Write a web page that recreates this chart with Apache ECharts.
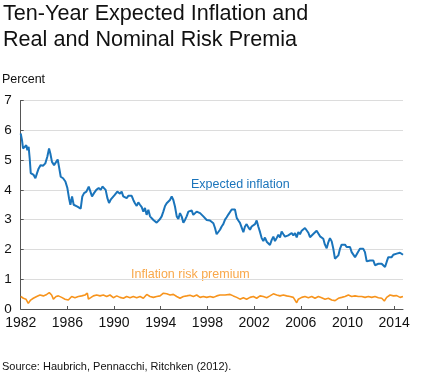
<!DOCTYPE html>
<html>
<head>
<meta charset="utf-8">
<script src="https://cdn.jsdelivr.net/npm/echarts@6/dist/echarts.min.js"></script>
<style>html,body{margin:0;padding:0;background:#fff;}#c{width:422px;height:374px;}</style>
</head>
<body>
<div id="c"></div>
<script>
// Expected inflation (percent), decimal years
const expYears = [1982.00,1982.11,1982.20,1982.34,1982.48,1982.57,1982.68,1982.77,1982.86,1982.97,1983.11,1983.26,1983.40,1983.54,1983.71,1983.91,1984.11,1984.28,1984.43,1984.54,1984.68,1984.86,1985.03,1985.17,1985.28,1985.43,1985.63,1985.83,1986.00,1986.14,1986.26,1986.40,1986.54,1986.68,1986.86,1987.00,1987.14,1987.28,1987.43,1987.63,1987.83,1987.97,1988.11,1988.28,1988.48,1988.68,1988.86,1989.00,1989.14,1989.28,1989.43,1989.57,1989.71,1989.86,1990.06,1990.28,
1990.37,1990.51,1990.65,1990.79,1990.94,1991.08,1991.22,1991.37,1991.51,1991.65,1991.79,1991.94,1992.08,1992.22,1992.37,1992.51,1992.65,1992.79,1992.94,1993.08,1993.22,1993.37,1993.51,1993.65,1993.79,1993.94,1994.08,1994.22,1994.37,1994.51,1994.65,1994.79,1994.94,1995.08,1995.22,1995.37,1995.51,1995.65,1995.79,1995.94,1996.08,1996.22,1996.37,1996.51,1996.65,1996.79,1996.94,1997.08,1997.22,1997.37,1997.51,1997.65,1997.79,1997.94,1998.08,1998.22,1998.37,1998.51,1998.65,
1998.79,1998.93,1999.08,1999.22,1999.36,1999.51,1999.65,1999.79,1999.93,2000.08,2000.22,2000.36,2000.51,2000.65,2000.79,2000.93,2001.08,2001.22,2001.36,2001.51,2001.65,2001.79,2001.93,2002.08,2002.22,2002.36,2002.51,2002.65,2002.79,2002.93,2003.08,2003.22,2003.36,2003.51,2003.65,2003.79,2003.93,2004.08,2004.22,2004.36,2004.51,2004.65,2004.79,2004.93,2005.08,2005.22,2005.36,2005.51,2005.65,2005.79,2005.93,2006.08,2006.22,2006.36,
2006.50,2006.65,2006.79,2006.93,2007.07,2007.22,2007.36,2007.50,2007.65,2007.79,2007.93,2008.07,2008.22,2008.36,2008.50,2008.65,2008.79,2008.93,2009.07,2009.22,2009.36,2009.50,2009.65,2009.79,2009.93,2010.07,2010.22,2010.36,2010.50,2010.65,2010.79,2010.93,2011.07,2011.22,2011.36,2011.50,2011.65,2011.79,2011.93,2012.07,2012.22,2012.36,2012.50,2012.65,2012.79,2012.93,2013.07,2013.22,2013.36,2013.50,2013.65,2013.79,2013.93,2014.07,2014.22,2014.36,2014.50,2014.65,2014.76];
const expValues = [5.89,5.67,5.39,5.44,5.50,5.33,5.44,5.06,4.56,4.61,4.50,4.39,4.56,4.72,4.83,4.81,4.89,5.11,5.39,5.22,4.94,4.83,4.89,5.02,4.78,4.44,4.39,4.28,4.06,3.72,3.50,3.78,3.50,3.56,3.44,3.50,3.37,3.78,3.89,3.94,4.11,4.11,3.78,3.89,4.00,4.06,4.00,4.11,4.17,4.00,3.72,3.56,3.67,3.61,3.83,3.94,
3.98,3.87,3.94,3.78,3.83,3.72,3.80,3.75,3.80,3.66,3.55,3.46,3.58,3.50,3.42,3.27,3.39,3.16,3.33,3.11,3.05,2.99,2.97,2.90,2.94,3.02,3.11,3.27,3.46,3.55,3.50,3.66,3.78,3.66,3.44,3.11,3.02,3.22,3.11,2.90,2.99,3.11,3.27,3.22,3.31,3.16,3.22,3.27,3.31,3.22,3.16,3.11,3.05,2.99,2.94,2.97,2.94,2.88,2.72,
2.51,2.55,2.66,2.77,2.85,3.00,3.08,3.17,3.23,3.34,3.28,3.34,3.06,2.97,2.89,2.83,2.58,2.77,2.85,2.74,2.66,2.77,2.72,2.85,2.97,2.77,2.58,2.38,2.28,2.40,2.26,2.32,2.15,2.32,2.43,2.28,2.38,2.49,2.40,2.60,2.51,2.43,2.40,2.47,2.51,2.55,2.47,2.55,2.40,2.58,2.51,2.63,2.58,2.72,
2.69,2.56,2.41,2.36,2.52,2.49,2.63,2.60,2.44,2.49,2.36,2.16,2.04,2.24,2.38,2.27,2.02,1.69,1.74,1.80,2.02,2.16,2.11,2.16,2.08,2.13,2.08,1.91,1.86,1.74,1.71,1.93,2.02,2.08,2.02,1.91,1.60,1.56,1.63,1.58,1.63,1.47,1.49,1.52,1.49,1.52,1.47,1.41,1.58,1.74,1.80,1.74,1.82,1.80,1.86,1.82,1.89,1.86,1.82];

// Inflation risk premium (percent)
const irpYears = [1982.00,1982.23,1982.45,1982.65,1982.85,1983.08,1983.37,1983.65,1983.94,1984.23,1984.45,1984.65,1984.80,1985.03,1985.23,1985.51,1985.80,1986.08,1986.37,1986.65,1986.94,1987.23,1987.51,1987.71,1987.80,1988.00,1988.23,1988.51,1988.80,1989.08,1989.37,1989.65,1989.94,1990.23,1990.51,1990.80,1991.08,1991.37,1991.65,1991.94,1992.23,1992.51,1992.80,1993.08,1993.37,1993.65,1993.94,1994.23,1994.51,1994.80,1995.08,1995.37,1995.65,1995.94,1996.23,1996.51,1996.80,1997.08,1997.37,1997.65,1997.94,1998.23,1998.51,1998.80,1999.08,
1999.51,1999.94,2000.22,2000.51,2000.79,2001.08,2001.36,2001.65,2001.94,2002.22,2002.51,2002.79,2003.08,2003.36,2003.65,2003.94,2004.22,2004.51,2004.79,2005.08,2005.36,2005.65,2005.79,2006.08,2006.36,2006.65,2006.94,2007.22,2007.51,2007.79,2008.08,2008.36,2008.65,2008.94,2009.22,2009.51,2009.79,2010.08,2010.36,2010.65,2010.94,2011.22,2011.51,2011.79,2012.08,2012.36,2012.65,2012.94,2013.16,2013.36,2013.65,2013.94,2014.22,2014.51,2014.76];
const irpValues = [0.42,0.36,0.33,0.19,0.30,0.36,0.42,0.47,0.44,0.49,0.55,0.47,0.33,0.42,0.44,0.39,0.33,0.30,0.42,0.38,0.42,0.44,0.47,0.53,0.33,0.38,0.44,0.47,0.44,0.47,0.42,0.47,0.38,0.44,0.39,0.36,0.42,0.38,0.42,0.38,0.42,0.36,0.49,0.42,0.39,0.42,0.44,0.53,0.51,0.47,0.49,0.42,0.36,0.42,0.44,0.46,0.42,0.47,0.39,0.42,0.39,0.42,0.39,0.44,0.47,
0.47,0.49,0.44,0.39,0.33,0.38,0.33,0.39,0.42,0.36,0.44,0.42,0.38,0.44,0.51,0.47,0.44,0.47,0.44,0.42,0.39,0.21,0.33,0.39,0.42,0.38,0.42,0.36,0.42,0.38,0.33,0.36,0.30,0.28,0.36,0.39,0.42,0.47,0.42,0.44,0.42,0.42,0.39,0.42,0.39,0.42,0.38,0.36,0.27,0.39,0.47,0.44,0.45,0.39,0.42];

const xTicks = [1982,1986,1990,1994,1998,2002,2006,2010,2014];
const yTicks = [0,1,2,3,4,5,6,7];

const FONT = '"Liberation Sans", Arial, sans-serif';
const BLUE = '#1a74bb';
const ORANGE = '#f7941d';

const zip = (a, b) => a.map((v, i) => [v, b[i]]);

const chart = echarts.init(document.getElementById('c'), null, {renderer: 'canvas'});
chart.setOption({
  animation: false,
  backgroundColor: '#fff',
  textStyle: {fontFamily: FONT},
  grid: {left: 20.7, right: 19, top: 100.5, bottom: 65, containLabel: false},
  xAxis: {
    type: 'value', min: 1982, max: 2014.76,
    axisLine: {show: true, lineStyle: {color: '#555', width: 1}},
    axisTick: {show: true, inside: true, length: 3, lineStyle: {color: '#555'}, customValues: xTicks},
    axisLabel: {color: '#111', fontSize: 14, fontFamily: FONT, margin: 7, customValues: xTicks, formatter: v => String(v)},
    splitLine: {show: false}
  },
  yAxis: {
    type: 'value', min: 0, max: 7, interval: 1,
    axisLine: {show: true, lineStyle: {color: '#555', width: 1}},
    axisTick: {show: true, inside: true, length: 3, lineStyle: {color: '#555'}, customValues: yTicks},
    axisLabel: {color: '#111', fontSize: 13.5, fontFamily: FONT, margin: 9, customValues: yTicks},
    splitLine: {show: true, lineStyle: {color: '#dcdcdc', width: 1}}
  },
  series: [
    {type: 'line', name: 'Expected inflation', data: zip(expYears, expValues), showSymbol: false, symbol: 'none',
     lineStyle: {color: BLUE, width: 2}, z: 3},
    {type: 'line', name: 'Inflation risk premium', data: zip(irpYears, irpValues), showSymbol: false, symbol: 'none',
     lineStyle: {color: ORANGE, width: 1.6}, z: 3}
  ],
  graphic: [
    {type: 'text', left: 3, top: 3, style: {text: 'Ten-Year Expected Inflation and', font: '21.6px ' + FONT, fill: '#111'}},
    {type: 'text', left: 3, top: 29, style: {text: 'Real and Nominal Risk Premia', font: '21.6px ' + FONT, fill: '#111'}},
    {type: 'text', left: 2, top: 73, style: {text: 'Percent', font: '12.5px ' + FONT, fill: '#111'}},
    {type: 'text', left: 191, top: 178, style: {text: 'Expected inflation', font: '12.5px ' + FONT, fill: BLUE}},
    {type: 'text', left: 131, top: 268, style: {text: 'Inflation risk premium', font: '12.5px ' + FONT, fill: '#f9a84a'}},
    {type: 'text', left: 2, top: 361, style: {text: 'Source: Haubrich, Pennacchi, Ritchken (2012).', font: '11px ' + FONT, fill: '#111'}}
  ]
});
</script>
</body>
</html>
